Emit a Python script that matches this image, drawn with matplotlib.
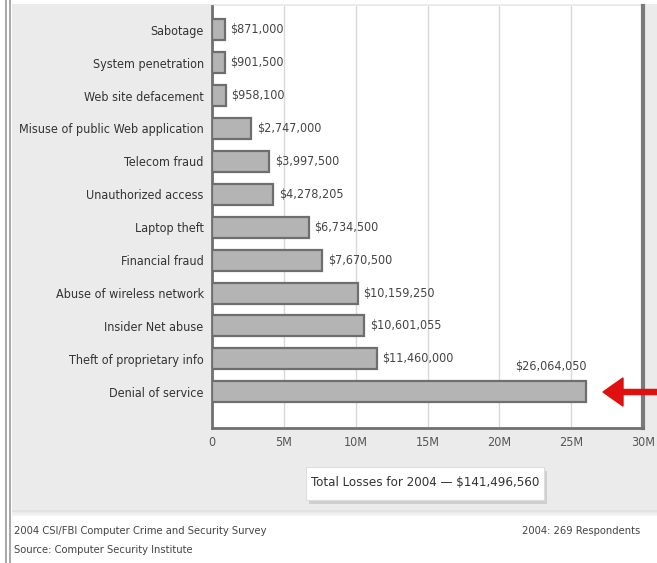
import matplotlib
matplotlib.use("Agg")
import matplotlib.pyplot as plt
from matplotlib.patches import Rectangle, FancyBboxPatch, FancyArrow
from matplotlib.lines import Line2D

categories = ["Sabotage", "System penetration", "Web site defacement",
              "Misuse of public Web application", "Telecom fraud",
              "Unauthorized access", "Laptop theft", "Financial fraud",
              "Abuse of wireless network", "Insider Net abuse",
              "Theft of proprietary info", "Denial of service"]
values = [871000, 901500, 958100, 2747000, 3997500, 4278205, 6734500,
          7670500, 10159250, 10601055, 11460000, 26064050]
xticks = [0, 5e6, 10e6, 15e6, 20e6, 25e6, 30e6]
xtick_labels = ["0", "5M", "10M", "15M", "20M", "25M", "30M"]
total_text = "Total Losses for 2004 \u2014 $141,496,560"
footer_left = ["2004 CSI/FBI Computer Crime and Security Survey",
               "Source: Computer Security Institute"]
footer_right = "2004: 269 Respondents"

plt.rcParams['font.family'] = ['DejaVu Sans']
plt.rcParams['font.stretch'] = 'condensed'

W, H = 657, 563
fig = plt.figure(figsize=(W / 100, H / 100), dpi=100, facecolor="white")

def fx(px):
    return px / W

def fy(py):
    return 1 - py / H

# gray panel background
fig.patches.append(Rectangle((fx(12), fy(510)), fx(W - 12), (510 - 4) / H,
                             transform=fig.transFigure, facecolor="#ebebeb",
                             edgecolor="none", zorder=-5))
# soft shadow under gray panel
for k, c in enumerate(["#e2e2e2", "#ececec", "#f4f4f4"]):
    fig.patches.append(Rectangle((fx(12), fy(512 + 2 * k)), fx(W - 12), 2 / H,
                                 transform=fig.transFigure, facecolor=c,
                                 edgecolor="none", zorder=-5))
# left double border lines
for xp in (6, 10):
    fig.lines.append(Line2D([fx(xp), fx(xp)], [0, 1], transform=fig.transFigure,
                            color="#9a9a9a", lw=1.2, zorder=1))

ax = fig.add_axes([fx(212), fy(428), fx(643 - 212), (428 - 6) / H])
ax.set_zorder(2)
ax.set_facecolor("white")
y = list(range(len(categories)))
ax.barh(y, values, height=0.64, color="#b4b4b4", edgecolor="#6e6e6e",
        linewidth=1.6, zorder=3)
ax.set_xlim(0, 30e6)
ax.set_ylim(len(categories) - 1 + 1.1, -0.72)
ax.set_xticks(xticks)
ax.set_xticklabels(xtick_labels, fontsize=9, color="#555555")
ax.set_yticks(y)
ax.set_yticklabels(categories, fontsize=9, color="#333333")
ax.tick_params(axis="both", length=0)
ax.tick_params(axis="x", pad=6)
ax.tick_params(axis="y", pad=6)
ax.grid(axis="x", color="#d8d8d8", lw=1, zorder=0)
ax.set_axisbelow(True)
ax.spines["top"].set_visible(False)
ax.spines["left"].set_color("#707070")
ax.spines["left"].set_linewidth(2)
ax.spines["bottom"].set_color("#707070")
ax.spines["bottom"].set_linewidth(2)
ax.spines["right"].set_color("#7a7a7a")
ax.spines["right"].set_linewidth(3)

for i, v in enumerate(values):
    lab = "${:,}".format(v)
    if i == len(values) - 1:
        ax.text(v, i - 0.78, lab, ha="right", va="center", fontsize=9,
                color="#444444", zorder=4)
    else:
        ax.annotate(lab, (v, i), xytext=(4, 0), textcoords="offset points",
                    ha="left", va="center", fontsize=9, color="#444444", zorder=4)

# red arrow
arrow = FancyArrow(fx(657), fy(392), -fx(54), 0, width=0.009, head_width=0.05,
                   head_length=fx(20), length_includes_head=True,
                   transform=fig.transFigure, color="#e01010", zorder=10)
fig.patches.append(arrow)

# total box
shadow = FancyBboxPatch((fx(309), fy(504)), fx(238), 33 / H,
                        boxstyle="square,pad=0", transform=fig.transFigure,
                        facecolor="#cfcfcf", edgecolor="none", zorder=4)
box = FancyBboxPatch((fx(306), fy(500)), fx(238), 33 / H,
                     boxstyle="square,pad=0", transform=fig.transFigure,
                     facecolor="white", edgecolor="#dddddd", lw=0.8, zorder=5)
fig.patches.append(shadow)
fig.patches.append(box)
fig.text(fx(425), fy(483), total_text, ha="center", va="center", fontsize=9.5,
         color="#333333", zorder=6)

fig.text(fx(14), fy(531), footer_left[0], ha="left", va="center", fontsize=8,
         color="#444444")
fig.text(fx(14), fy(550), footer_left[1], ha="left", va="center", fontsize=8,
         color="#444444")
fig.text(fx(640), fy(531), footer_right, ha="right", va="center", fontsize=8,
         color="#444444")

fig.savefig("out.png", dpi=100, facecolor="white")
